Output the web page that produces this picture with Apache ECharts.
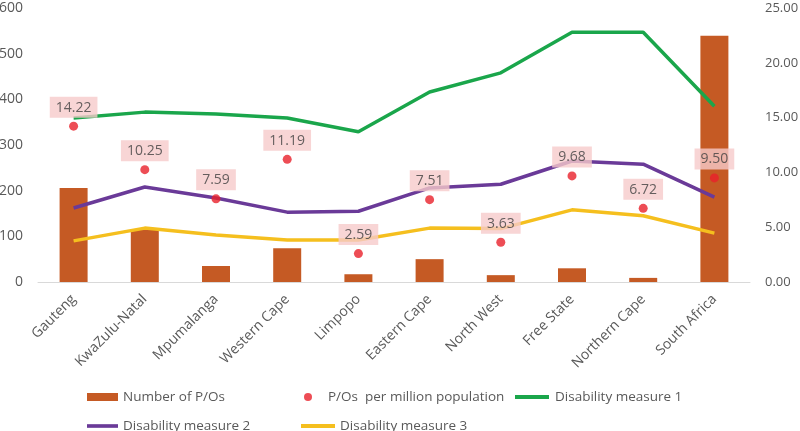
<!DOCTYPE html>
<html>
<head>
<meta charset="utf-8">
<script src="https://cdn.jsdelivr.net/npm/echarts@6/dist/echarts.min.js"></script>
<style>
  html, body { margin: 0; padding: 0; background: #fff; }
  #chart { width: 800px; height: 431px; }
</style>
</head>
<body>
<div id="chart"></div>
<script>
// provinces
var provinces = ['Gauteng', 'KwaZulu-Natal', 'Mpumalanga', 'Western Cape', 'Limpopo',
  'Eastern Cape', 'North West', 'Free State', 'Northern Cape', 'South Africa'];
var numberPOs = [206, 114, 35, 74, 17, 50, 15, 30, 9, 539];
var perMillion = [14.22, 10.25, 7.59, 11.19, 2.59, 7.51, 3.63, 9.68, 6.72, 9.50];
var measure1 = [359, 372, 368, 359, 329, 416, 458, 547, 547, 385];
var measure2 = [162, 208, 184, 153, 155, 206, 214, 265, 258, 186];
var measure3 = [90, 118, 103, 92, 92, 118, 117, 158, 145, 107];
var leftTicks = [0, 600, 100];
var rightTicks = [0, 25, 5];

var chart = echarts.init(document.getElementById('chart'));
var font = 'Open Sans';
var txt = '#595959';
var lineIcon = 'path://M0,0 L34,0 L34,4 L0,4 Z';

var legendText = { color: txt, fontSize: 13.5, fontFamily: font };

// one legend per entry so each sits where it does in the original
function legendItem(name, left, top, icon, w, h) {
  return {
    left: left, top: top, itemWidth: w, itemHeight: h, itemGap: 0,
    textStyle: legendText,
    data: [{ name: name, icon: icon }]
  };
}

chart.setOption({
  animation: false,
  grid: { left: 38, right: 50, top: 8, bottom: 149, containLabel: false, outerBoundsMode: 'none' },
  legend: [
    legendItem('Number of P/Os', 82, 385, 'rect', 31, 8),
    legendItem('P/Os  per million population', 299, 385, 'circle', 30, 8),
    legendItem('Disability measure 1', 510, 385, lineIcon, 36, 4),
    legendItem('Disability measure 2', 82, 414, lineIcon, 31, 4),
    legendItem('Disability measure 3', 296, 414, lineIcon, 34, 4)
  ],
  xAxis: {
    type: 'category',
    data: provinces,
    axisLine: { lineStyle: { color: '#d9d9d9' } },
    axisTick: { show: false },
    axisLabel: { rotate: 45, color: txt, fontSize: 14, fontFamily: font, interval: 0, margin: 15 }
  },
  yAxis: [
    {
      type: 'value', min: leftTicks[0], max: leftTicks[1], interval: leftTicks[2],
      splitLine: { show: false },
      axisLabel: { color: txt, fontSize: 14, fontFamily: font, margin: 15 }
    },
    {
      type: 'value', min: rightTicks[0], max: rightTicks[1], interval: rightTicks[2],
      splitLine: { show: false },
      axisLabel: {
        color: txt, fontSize: 13, fontFamily: font, margin: 15,
        formatter: function (v) { return v.toFixed(2); }
      }
    }
  ],
  series: [
    {
      name: 'Number of P/Os', type: 'bar', data: numberPOs, barWidth: 28,
      itemStyle: { color: '#c55a24' }
    },
    {
      name: 'P/Os  per million population', type: 'scatter', yAxisIndex: 1,
      data: perMillion, symbolSize: 9, z: 5,
      itemStyle: { color: '#e8212b' },
      label: {
        show: true, position: 'top', distance: 4,
        color: '#404040', fontSize: 14, fontFamily: font,
        backgroundColor: '#f6caca', padding: [4, 6, 3, 6],
        formatter: function (p) { return p.value.toFixed(2); }
      }
    },
    {
      name: 'Disability measure 1', type: 'line', data: measure1,
      symbol: 'none', lineStyle: { width: 3.5, color: '#1aa64b' }, itemStyle: { color: '#1aa64b' }
    },
    {
      name: 'Disability measure 2', type: 'line', data: measure2,
      symbol: 'none', lineStyle: { width: 3.5, color: '#6a3a98' }, itemStyle: { color: '#6a3a98' }
    },
    {
      name: 'Disability measure 3', type: 'line', data: measure3,
      symbol: 'none', lineStyle: { width: 3.5, color: '#f5bf1e' }, itemStyle: { color: '#f5bf1e' }
    }
  ]
});
window.addEventListener('resize', chart.resize);
</script>
</body>
</html>
